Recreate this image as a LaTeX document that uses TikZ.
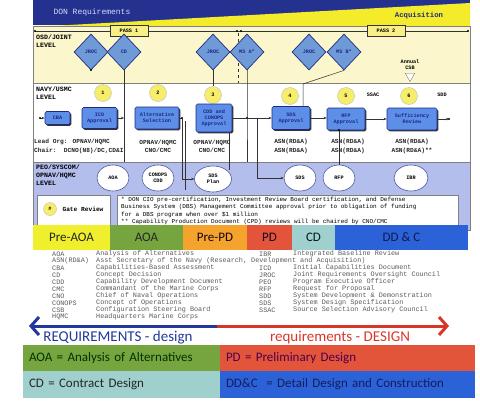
\documentclass[tikz,border=0pt]{standalone}
\usepackage{fontspec}
\setmainfont{Carlito}
\newfontfamily\monof{Liberation Mono}
\usetikzlibrary{shapes.geometric,shadows,arrows.meta}
\definecolor{navy}{HTML}{1E2A82}
\definecolor{bannerblue}{HTML}{24318F}
\definecolor{wedgey}{HTML}{F4EC2A}
\definecolor{paley}{HTML}{FBF6CC}
\definecolor{regblue}{HTML}{B4BEEC}
\definecolor{boxblue}{HTML}{5E8FE8}
\definecolor{diablue}{HTML}{6F9AD8}
\definecolor{circy}{HTML}{F6EE6A}
\definecolor{passy}{HTML}{F8EF86}
\definecolor{cpreaoa}{HTML}{EFEF2E}
\definecolor{caoa}{HTML}{76A43E}
\definecolor{cprepd}{HTML}{F4A42C}
\definecolor{cpd}{HTML}{E2553A}
\definecolor{ccd}{HTML}{9FD0CE}
\definecolor{cddc}{HTML}{2C62D8}
\definecolor{reqblue}{HTML}{22389A}
\definecolor{reqred}{HTML}{D9362A}
\definecolor{acrgray}{HTML}{5A5A5A}
\newcommand\boxfont{\monof\bfseries\fontsize{5.2}{5.9}\selectfont}
\newcommand\lvlfont{\monof\bfseries\fontsize{6.6}{8}\selectfont}
\newcommand\subfont{\monof\bfseries\fontsize{6.2}{8.5}\selectfont}
\newcommand\notefont{\monof\fontsize{6}{7.3}\selectfont}
\newcommand\acrfont{\monof\fontsize{6.8}{7}\selectfont}
\begin{document}
\begin{tikzpicture}[x=1pt,y=-1pt,
  procbox/.style={draw=navy,line width=0.7pt,fill=boxblue,rounded corners=1.5pt,
     drop shadow={shadow xshift=1.3pt,shadow yshift=-1.3pt,fill=black!80,opacity=1},
     font=\boxfont,align=center,inner sep=0.5pt,text=navy},
  gate/.style={circle,fill=circy,draw=gray!50,minimum size=17pt,inner sep=0pt,font=\boxfont},
  dia/.style={diamond,draw=navy,line width=0.7pt,fill=diablue,minimum width=34pt,minimum height=36pt,inner sep=0pt,font=\boxfont,text=navy},
  ell/.style={ellipse,draw=navy!80,fill=white,line width=0.6pt,minimum width=32pt,minimum height=26pt,inner sep=0pt,font=\boxfont,align=center},
  conn/.style={draw=black!80,line width=0.5pt},
  arr/.style={conn,-{Stealth[length=3pt,width=2.5pt]}},
  phasest/.style={minimum height=25pt,inner sep=0pt,font=\fontsize{13}{13}\selectfont},
  legst/.style={minimum height=26.5pt,inner xsep=6pt,inner ysep=0pt,align=left,font=\fontsize{13}{14}\selectfont},
  mono/.style={font=\subfont,text=black!85,align=center},
  acr/.style={font=\acrfont,text=acrgray,inner sep=0pt,anchor=west}
]
\useasboundingbox (0,0) rectangle (480,402);
% backgrounds
\fill[bannerblue] (33,0) rectangle (470,25);
\fill[wedgey] (60,25.5) -- (470,3) -- (470,26) -- (33,26) -- cycle;
\fill[paley] (33,26) rectangle (470,83);
\fill[white] (33,83) rectangle (470,162);
\fill[regblue] (33,162) rectangle (470,230);
\draw[gray,line width=0.5pt] (33,26) rectangle (470,230);
\draw[gray,line width=0.5pt] (33,83) -- (470,83) (33,162) -- (470,162);
\node[font=\monof\fontsize{8}{8}\selectfont,text=blue!15!white,anchor=west] (donreq) at (50,12) {DON Requirements};
\node[font=\monof\bfseries\fontsize{7.3}{8}\selectfont,text=navy] (acq) at (419,16) {Acquisition};

% pass line
\coordinate (pl) at (35,31);
\coordinate (pr) at (468,31);
\draw[conn] (pl) -- (pr);
\fill (pl) circle (1.1pt) (pr) circle (1.1pt) (237,31) circle (1.1pt) (241,31) circle (1.1pt);
\node[draw=black!80,fill=passy,font=\boxfont,minimum width=38pt,minimum height=11pt,inner sep=0pt] (pass1) at (129,31) {PASS 1};
\node[draw=black!80,fill=passy,font=\boxfont,minimum width=38pt,minimum height=11pt,inner sep=0pt] (pass2) at (386,31) {PASS 2};
\draw[conn,dashed] (238,33) -- (238,83);

% level labels
\node[anchor=north west,align=left,font=\lvlfont,inner sep=0pt] (osdl) at (36,35) {OSD/JOINT\\LEVEL};
\node[anchor=north west,align=left,font=\lvlfont,inner sep=0pt] (navl) at (36,87) {NAVY/USMC\\LEVEL};
\node[anchor=north west,align=left,font=\lvlfont,inner sep=0pt] (peol) at (36,165) {PEO/SYSCOM/\\OPNAV/HQMC\\LEVEL};

% diamonds
\node[dia] (jroc1) at (91,52) {JROC};
\node[dia] (cdx) at (124,52) {CD};
\node[dia] (jroc2) at (213,52) {JROC};
\node[dia] (msa) at (247,52) {MS A*};
\node[dia] (jroc3) at (309,52) {JROC};
\node[dia] (msb) at (344,52) {MS B*};

% annual CSB
\node[font=\boxfont,align=center,inner sep=0pt] (csbt) at (410,65) {Annual\\CSB};
\node[regular polygon,regular polygon sides=3,shape border rotate=180,draw=gray,fill=white,minimum size=11pt,inner sep=0pt] (csb) at (410,76) {};

% gate circles
\node[gate] (g1) at (103,93) {1};
\node[gate] (g2) at (158,93) {2};
\node[gate] (g3) at (213,95) {3};
\node[gate] (g4) at (290,96) {4};
\node[gate] (g5) at (346,96) {5};
\node[gate] (g6) at (409,96) {6};
\node[font=\boxfont] (ssac) at (373,95) {SSAC};
\node[font=\boxfont] (sdd) at (442,95) {SDD};

% process boxes
\node[procbox,minimum width=25pt,minimum height=13pt] (cba) at (57.5,118) {CBA};
\node[procbox,minimum width=35pt,minimum height=21pt] (icd) at (99.5,118) {ICD\\Approval};
\node[procbox,minimum width=44pt,minimum height=22pt] (alt) at (157,118) {Alternative\\Selection};
\node[procbox,minimum width=36pt,minimum height=28pt] (cdd) at (214,118) {CDD and\\CONOPS\\Approval};
\node[procbox,minimum width=38pt,minimum height=23pt] (sdsa) at (291,118) {SDS\\Approval};
\node[procbox,minimum width=38pt,minimum height=22pt] (rfpa) at (346,119) {RFP\\Approval};
\node[procbox,minimum width=50pt,minimum height=22pt] (suff) at (412,119) {Sufficiency\\Review};

% ellipses
\node[ell] (aoa) at (113,178) {AOA};
\node[ell] (conops) at (158,178) {CONOPS\\CDD};
\node[ell,minimum width=37pt] (sdsplan) at (213,179) {SDS\\Plan};
\node[ell] (sds) at (300,178) {SDS};
\node[ell] (rfp) at (339,178) {RFP};
\node[ell,minimum width=34pt] (ibr) at (411,178) {IBR};

% connectors
\fill (91,70) circle (1.1pt);
\coordinate (cdend) at (124,162);
\draw[conn] (cdx.south) -- (cdend);
\draw[arr] (icd.east) -- (icd.east -| cdx.south);
\coordinate (cbain) at (40,118);
\draw[arr] (cbain) -- (cba.west);
\fill (cbain) circle (1.1pt);
\draw[conn] (jroc2.south) -- (g3.north);
\coordinate (jA) at (247,118);
\coordinate (jAend) at (247,162);
\draw[conn] (msa.south) -- (jA) -- (jAend);
\fill (jA) circle (1.2pt);
\draw[arr] (cdd.east) -- (sdsa.west);
\coordinate (jB) at (257,118);
\draw[arr] (jB) |- (sds.west);
\draw[arr] (sdsa.east) -- (sdsa.east -| rfpa.west);
\draw[arr] (rfpa.east) -- (suff.west);
\coordinate (suffout) at (449,119);
\draw[arr] (suff.east) -- (suffout);
\fill (suffout) circle (1.1pt);
\coordinate (kb) at (303,84);
\draw[conn] (msb.south) -- (kb) -- (kb |- sdsa.north);
\coordinate (rfptop) at (339,130);
\draw[conn] (rfptop) -- (rfp.north);
\fill (rfptop) circle (1.2pt);
\coordinate (ja) at (182,118);
\draw[conn] (alt.east) -- (ja);
\fill (ja) circle (1.2pt);
\draw[arr] (ja) |- (sdsplan.west);
\draw[conn] (185,121) -- (185,190);
\coordinate (cddb) at (229,132);
\coordinate (spr) at (229,170);
\draw[conn] (cddb) -- (spr);

% texts under boxes
\node[mono,anchor=west,inner sep=0pt] (lead) at (34,142) {Lead Org: OPNAV/HQMC};
\node[mono,anchor=west,inner sep=0pt] (chair) at (34,150.5) {Chair:\ \ DCNO(N8)/DC,CD\&I};
\node[mono] (o2) at (158,146.2) {OPNAV/HQMC\\CNO/CMC};
\node[mono] (o3) at (212,146.2) {OPNAV/HQMC\\CNO/CMC};
\node[mono] (a4) at (291,146.2) {ASN(RD\&A)\\ASN(RD\&A)};
\node[mono] (a5) at (348,146.2) {ASN(RD\&A)\\ASN(RD\&A)};
\node[mono] (a6) at (412,146.2) {ASN(RD\&A)\\ASN(RD\&A)**};

% gate review & notes
\node[draw=gray,fill=white,minimum width=73pt,minimum height=31pt,anchor=north west] (gatebox) at (37,195) {};
\node[gate,minimum size=13pt] (gsym) at (50,209) {\#};
\node[font=\subfont] (gtxt) at (83,209) {Gate Review};
\node[draw=gray,fill=white,anchor=north west,minimum width=341pt,minimum height=36pt] (notebox) at (117,195) {};
\node[anchor=north west,align=left,font=\notefont,inner sep=0pt] (notes) at (121,197) {* DON CIO pre-certification, Investment Review Board certification, and Defense\\
Business System (DBS) Management Committee approval prior to obligation of funding\\
for a DBS program when over \$1 million\\
** Capability Production Document (CPD) reviews will be chaired by CNO/CMC};

% phase bar
\node[phasest,fill=cpreaoa,minimum width=77pt,text=black!85] (ph1) at (71.5,237.5) {Pre-AOA};
\node[phasest,fill=caoa,minimum width=73pt,text=black!85] (ph2) at (146.5,237.5) {AOA};
\node[phasest,fill=cprepd,minimum width=64pt,text=black!80!violet] (ph3) at (215,237.5) {Pre-PD};
\node[phasest,fill=cpd,minimum width=45pt,text=black!80!violet] (ph4) at (269.5,237.5) {PD};
\node[phasest,fill=ccd,minimum width=43pt,text=black!80!teal] (ph5) at (313.5,237.5) {CD};
\node[phasest,fill=cddc,minimum width=133pt,text=navy!60!black] (ph6) at (401.5,237.5) {DD \& C};

% acronyms
\foreach \ab/\df [count=\i from 0] in {AOA/Analysis of Alternatives,{ASN(RD\&A)}/{Asst Secretary of the Navy (Research, Development and Acquisition)},CBA/Capabilities-Based Assessment,CD/Concept Decision,CDD/Capability Development Document,CMC/Commandant of the Marine Corps,CNO/Chief of Naval Operations,CONOPS/Concept of Operations,CSB/Configuration Steering Board,HQMC/Headquarters Marine Corps}
{
  \node[acr] (la\i) at (52,254+7*\i) {\ab};
  \node[acr] (ld\i) at (96,254+7*\i) {\df};
}
\foreach \ab/\df/\k in {IBR/Integrated Baseline Review/0,ICD/Initial Capabilities Document/2,JROC/Joint Requirements Oversight Council/3,PEO/Program Executive Officer/4,RFP/Request for Proposal/5,SDD/System Development \& Demonstration/6,SDS/System Design Specification/7,SSAC/Source Selection Advisory Council/8}
{
  \node[acr] (ra\k) at (259,254+7*\k) {\ab};
  \node[acr] (rd\k) at (293,254+7*\k) {\df};
}

% big arrow
\coordinate (amid) at (217,326);
\coordinate (al) at (29,326);
\coordinate (ar) at (449,326);
\draw[reqblue,line width=3pt,-{Straight Barb[length=8pt,width=18pt]}] (amid) -- (al);
\draw[reqred,line width=3pt,-{Straight Barb[length=8pt,width=18pt]}] (amid) -- (ar);
\node[font=\fontsize{15}{15}\selectfont,text=reqblue] (reqd) at (118,338) {REQUIREMENTS - design};
\node[font=\fontsize{15}{15}\selectfont,text=reqred] (reqD) at (340,338) {requirements - DESIGN};

% legend
\node[legst,fill=caoa,minimum width=197pt,text width=185pt,text=black!80!green] (lg1) at (121.5,358.25) {AOA = Analysis of Alternatives};
\node[legst,fill=cpd,minimum width=255pt,text width=243pt,text=violet!60!black] (lg2) at (347.5,358.25) {PD = Preliminary Design};
\node[legst,fill=ccd,minimum width=197pt,text width=185pt,text=black!85] (lg3) at (121.5,384.25) {CD = Contract Design};
\node[legst,fill=cddc,minimum width=255pt,text width=243pt,text=navy!70!black] (lg4) at (347.5,384.25) {DD\&C\ \ = Detail Design and Construction};
\end{tikzpicture}
\end{document}
